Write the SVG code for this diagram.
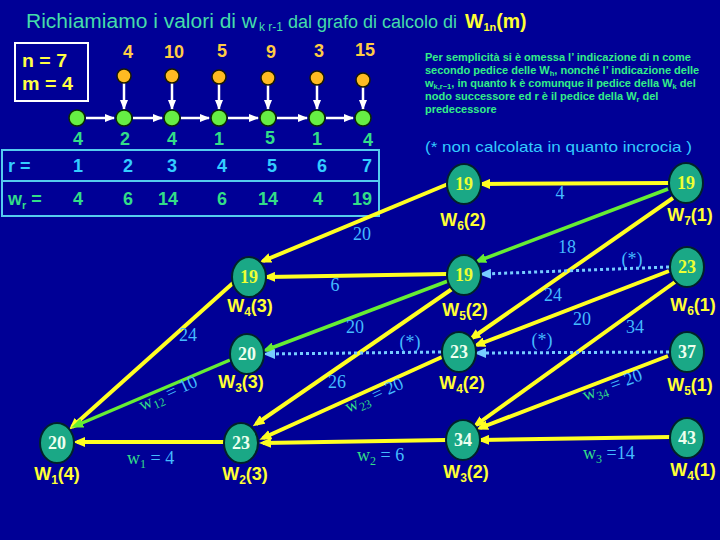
<svg xmlns="http://www.w3.org/2000/svg" width="720" height="540" viewBox="0 0 720 540">
<defs>
<marker id="ay" viewBox="0 0 12 10" refX="8" refY="5" markerWidth="12" markerHeight="10" orient="auto" markerUnits="userSpaceOnUse"><path d="M0,0 L12,5 L0,10 z" fill="#ffff22"/></marker>
<marker id="ag" viewBox="0 0 12 10" refX="8" refY="5" markerWidth="12" markerHeight="10" orient="auto" markerUnits="userSpaceOnUse"><path d="M0,0 L12,5 L0,10 z" fill="#66ee33"/></marker>
<marker id="ac" viewBox="0 0 12 10" refX="8" refY="5" markerWidth="12" markerHeight="10" orient="auto" markerUnits="userSpaceOnUse"><path d="M0,0 L12,5 L0,10 z" fill="#77ccff"/></marker>
<marker id="aw" viewBox="0 0 10 8" refX="9" refY="4" markerWidth="10" markerHeight="8" orient="auto" markerUnits="userSpaceOnUse"><path d="M0,0 L10,4 L0,8 z" fill="#ffffff"/></marker>
<style>
.node ellipse{fill:#1aa886;stroke:#00222a;stroke-width:2}
.val{font-family:"Liberation Serif","Times New Roman",serif;font-weight:bold;font-size:18px;text-anchor:middle}
.vy{fill:#eeff33}
.vw{fill:#eeffee}
.lab{font-family:"Liberation Sans",Arial,sans-serif;font-weight:bold;font-size:18px;fill:#ffff33;text-anchor:middle}
.sub{font-size:12px}
.el{font-family:"Liberation Serif","Times New Roman",serif;font-size:18px;fill:#44bbff;text-anchor:middle}
.wl{font-family:"Liberation Serif","Times New Roman",serif;font-size:18px;fill:#44bbff}
.wg{fill:#33dd88}
.ely{stroke:#ffff22;stroke-width:4;fill:none;marker-end:url(#ay)}
.elg{stroke:#66ee33;stroke-width:3.5;fill:none;marker-end:url(#ag)}
.eld{stroke:#77ccff;stroke-width:3;stroke-dasharray:3 3;fill:none;marker-end:url(#ac)}
.wa{stroke:#ffffff;stroke-width:2.5;fill:none;marker-end:url(#aw)}
.oc{fill:#ffbb22;stroke:#1a1a00;stroke-width:1.5}
.gc{fill:#66ee44;stroke:#0a2a00;stroke-width:1.5}
.top{font-family:"Liberation Sans",Arial,sans-serif;font-weight:bold;font-size:18px;fill:#ffcc44;text-anchor:middle}
.gn{font-family:"Liberation Sans",Arial,sans-serif;font-weight:bold;font-size:18px;fill:#33dd88;text-anchor:middle}
.cn{font-family:"Liberation Sans",Arial,sans-serif;font-weight:bold;font-size:18px;fill:#33ccff;text-anchor:middle}
.note{font-family:"Liberation Sans",Arial,sans-serif;font-weight:bold;font-size:11px;fill:#33ee88}
.nsub{font-size:7.5px}
</style>
</defs>
<rect x="0" y="0" width="720" height="540" fill="#000096"/>

<!-- title -->
<g id="title" font-family="'Liberation Sans',Arial,sans-serif" font-size="19.5">
<text x="26" y="27.5" fill="#44ddaa" textLength="231" lengthAdjust="spacingAndGlyphs">Richiamiamo i valori di w</text>
<text x="259" y="31" fill="#44ddaa" font-size="12" textLength="24" lengthAdjust="spacingAndGlyphs">k r-1</text>
<text x="288" y="27.5" fill="#44ddaa" font-size="18">dal grafo di calcolo di</text>
<text x="465" y="27.5" fill="#ffff33" font-weight="bold">W<tspan font-size="11" dy="3.5">1n</tspan><tspan dy="-3.5">(m)</tspan></text>
</g>

<!-- n m box -->
<g id="params">
<rect x="15" y="43" width="73" height="58" fill="none" stroke="#ffffff" stroke-width="2"/>
<text x="22" y="67" font-family="'Liberation Sans',Arial,sans-serif" font-weight="bold" font-size="19" fill="#ffff44" textLength="45" lengthAdjust="spacingAndGlyphs">n = 7</text>
<text x="22" y="90" font-family="'Liberation Sans',Arial,sans-serif" font-weight="bold" font-size="19" fill="#ffff44" textLength="51" lengthAdjust="spacingAndGlyphs">m = 4</text>
</g>

<!-- top chain -->
<g id="chain">
<text class="top" x="128" y="58">4</text>
<text class="top" x="174" y="58">10</text>
<text class="top" x="222" y="57">5</text>
<text class="top" x="271" y="58">9</text>
<text class="top" x="319" y="57">3</text>
<text class="top" x="365" y="56">15</text>
<line class="wa" x1="124" y1="83" x2="124" y2="109"/>
<line class="wa" x1="172" y1="83" x2="172" y2="109"/>
<line class="wa" x1="219" y1="84" x2="219" y2="109"/>
<line class="wa" x1="268" y1="85" x2="268" y2="109"/>
<line class="wa" x1="317" y1="85" x2="317" y2="109"/>
<line class="wa" x1="363" y1="87" x2="363" y2="109"/>
<line class="wa" x1="86" y1="118" x2="114" y2="118"/>
<line class="wa" x1="133" y1="118" x2="162" y2="118"/>
<line class="wa" x1="181" y1="118" x2="209" y2="118"/>
<line class="wa" x1="228" y1="118" x2="258" y2="118"/>
<line class="wa" x1="277" y1="118" x2="307" y2="118"/>
<line class="wa" x1="326" y1="118" x2="353" y2="118"/>
<circle class="oc" cx="124" cy="76" r="7"/>
<circle class="oc" cx="172" cy="76" r="7"/>
<circle class="oc" cx="219" cy="77" r="7"/>
<circle class="oc" cx="268" cy="78" r="7"/>
<circle class="oc" cx="317" cy="78" r="7"/>
<circle class="oc" cx="363" cy="80" r="7"/>
<circle class="gc" cx="77" cy="118" r="8"/>
<circle class="gc" cx="124" cy="118" r="8"/>
<circle class="gc" cx="172" cy="118" r="8"/>
<circle class="gc" cx="219" cy="118" r="8"/>
<circle class="gc" cx="268" cy="118" r="8"/>
<circle class="gc" cx="317" cy="118" r="8"/>
<circle class="gc" cx="363" cy="118" r="8"/>
<text class="gn" x="78" y="145">4</text>
<text class="gn" x="125" y="145">2</text>
<text class="gn" x="172" y="145">4</text>
<text class="gn" x="219" y="145">1</text>
<text class="gn" x="270" y="144">5</text>
<text class="gn" x="317" y="145">1</text>
<text class="gn" x="368" y="146">4</text>
</g>

<!-- table -->
<g id="table">
<rect x="2" y="150" width="377" height="31" fill="none" stroke="#55ccee" stroke-width="2"/>
<rect x="2" y="181" width="377" height="35" fill="none" stroke="#55ccee" stroke-width="2"/>
<text x="8" y="172" font-family="'Liberation Sans',Arial,sans-serif" font-weight="bold" font-size="18" fill="#33ccff">r =</text>
<text class="cn" x="78" y="172">1</text>
<text class="cn" x="128" y="172">2</text>
<text class="cn" x="172" y="172">3</text>
<text class="cn" x="222" y="172">4</text>
<text class="cn" x="272" y="172">5</text>
<text class="cn" x="322" y="172">6</text>
<text class="cn" x="367" y="172">7</text>
<text x="8" y="205" font-family="'Liberation Sans',Arial,sans-serif" font-weight="bold" font-size="18" fill="#33dd88">w<tspan font-size="11" dy="4">r</tspan><tspan dy="-4"> =</tspan></text>
<text class="gn" x="78" y="205">4</text>
<text class="gn" x="128" y="205">6</text>
<text class="gn" x="168" y="205">14</text>
<text class="gn" x="222" y="205">6</text>
<text class="gn" x="268" y="205">14</text>
<text class="gn" x="318" y="205">4</text>
<text class="gn" x="362" y="205">19</text>
</g>

<!-- notes -->
<g id="notes">
<text class="note" x="425" y="61">Per semplicità si è omessa l’ indicazione di n come</text>
<text class="note" x="425" y="74">secondo pedice delle W<tspan class="nsub" dy="2">h</tspan><tspan dy="-2">, nonché l’ indicazione delle</tspan></text>
<text class="note" x="425" y="87">w<tspan class="nsub" dy="2">k,r−1</tspan><tspan dy="-2">, in quanto k è comunque il pedice della W</tspan><tspan class="nsub" dy="2">k</tspan><tspan dy="-2"> del</tspan></text>
<text class="note" x="425" y="100">nodo successore ed r è il pedice della W<tspan class="nsub" dy="2">r</tspan><tspan dy="-2"> del</tspan></text>
<text class="note" x="425" y="113">predecessore</text>
<text x="425" y="152" font-family="'Liberation Sans',Arial,sans-serif" font-size="15" fill="#33ccff" textLength="267" lengthAdjust="spacingAndGlyphs">(* non calcolata in quanto incrocia )</text>
</g>

<!-- connectors -->
<g id="connectors">
<line class="ely" x1="448" y1="184" x2="263" y2="261"/>
<line class="ely" x1="669" y1="183" x2="482" y2="184"/>
<line class="elg" x1="668" y1="189" x2="478" y2="261"/>
<line class="ely" x1="673" y1="198" x2="472" y2="338"/>
<line class="eld" x1="669" y1="267" x2="483" y2="274"/>
<line class="ely" x1="669" y1="271" x2="477" y2="345"/>
<line class="ely" x1="675" y1="282" x2="476" y2="425"/>
<line class="eld" x1="669" y1="352" x2="478" y2="353"/>
<line class="ely" x1="668" y1="356" x2="480" y2="428"/>
<line class="ely" x1="670" y1="437" x2="481" y2="440"/>
<line class="ely" x1="447" y1="274" x2="267" y2="277"/>
<line class="elg" x1="448" y1="281" x2="266" y2="350"/>
<line class="ely" x1="452" y1="289" x2="256" y2="424"/>
<line class="eld" x1="441" y1="352" x2="267" y2="354"/>
<line class="ely" x1="442" y1="357" x2="263" y2="438"/>
<line class="ely" x1="446" y1="440" x2="263" y2="443"/>
<line class="ely" x1="233" y1="283" x2="72" y2="427"/>
<line class="elg" x1="230" y1="360" x2="75" y2="426"/>
<line class="ely" x1="225" y1="442" x2="77" y2="442"/>
</g>

<!-- edge labels -->
<g id="edge-labels">
<text class="el" x="362" y="240">20</text>
<text class="el" x="560" y="199">4</text>
<text class="el" x="567" y="253">18</text>
<text class="el" x="632" y="265">(*)</text>
<text class="el" x="553" y="301">24</text>
<text class="el" x="582" y="325">20</text>
<text class="el" x="635" y="333">34</text>
<text class="el" x="335" y="291">6</text>
<text class="el" x="355" y="333">20</text>
<text class="el" x="410" y="348">(*)</text>
<text class="el" x="542" y="346">(*)</text>
<text class="el" x="337" y="388">26</text>
<text class="el" x="188" y="341">24</text>
<text class="wl" transform="rotate(-24 142 411)" x="142" y="411"><tspan class="wg">w</tspan><tspan class="wg" font-size="12" dy="4">12</tspan><tspan dy="-4"> = 10</tspan></text>
<text class="wl" transform="rotate(-24 348 413)" x="348" y="413"><tspan class="wg">w</tspan><tspan class="wg" font-size="12" dy="4">23</tspan><tspan dy="-4"> = 20</tspan></text>
<text class="wl" transform="rotate(-20 585 401)" x="585" y="401"><tspan class="wg">w</tspan><tspan class="wg" font-size="12" dy="4">34</tspan><tspan dy="-4"> = 20</tspan></text>
<text class="wl" x="127" y="464"><tspan class="wg">w</tspan><tspan class="wg" font-size="12" dy="4">1</tspan><tspan dy="-4"> = 4</tspan></text>
<text class="wl" x="357" y="461"><tspan class="wg">w</tspan><tspan class="wg" font-size="12" dy="4">2</tspan><tspan dy="-4"> = 6</tspan></text>
<text class="wl" x="583" y="459"><tspan class="wg">w</tspan><tspan class="wg" font-size="12" dy="4">3</tspan><tspan dy="-4"> =14</tspan></text>
</g>

<!-- nodes -->
<g id="W7_1" class="node"><ellipse cx="686" cy="183" rx="17" ry="20"/><text class="val vy" x="686" y="189">19</text><text class="lab" x="690" y="221">W<tspan class="sub" dy="4">7</tspan><tspan dy="-4">(1)</tspan></text></g>
<g id="W6_2" class="node"><ellipse cx="464" cy="184" rx="17" ry="20"/><text class="val vy" x="464" y="190">19</text><text class="lab" x="463" y="226">W<tspan class="sub" dy="4">6</tspan><tspan dy="-4">(2)</tspan></text></g>
<g id="W6_1" class="node"><ellipse cx="687" cy="267" rx="17" ry="20"/><text class="val vy" x="687" y="273">23</text><text class="lab" x="693" y="311">W<tspan class="sub" dy="4">6</tspan><tspan dy="-4">(1)</tspan></text></g>
<g id="W5_2" class="node"><ellipse cx="464" cy="275" rx="17" ry="20"/><text class="val vy" x="464" y="281">19</text><text class="lab" x="465" y="316">W<tspan class="sub" dy="4">5</tspan><tspan dy="-4">(2)</tspan></text></g>
<g id="W4_3" class="node"><ellipse cx="249" cy="277" rx="17" ry="20"/><text class="val vy" x="249" y="283">19</text><text class="lab" x="250" y="312">W<tspan class="sub" dy="4">4</tspan><tspan dy="-4">(3)</tspan></text></g>
<g id="W3_3" class="node"><ellipse cx="247" cy="354" rx="17" ry="20"/><text class="val vw" x="247" y="360">20</text><text class="lab" x="241" y="388">W<tspan class="sub" dy="4">3</tspan><tspan dy="-4">(3)</tspan></text></g>
<g id="W4_2" class="node"><ellipse cx="459" cy="352" rx="17" ry="20"/><text class="val vw" x="459" y="358">23</text><text class="lab" x="462" y="389">W<tspan class="sub" dy="4">4</tspan><tspan dy="-4">(2)</tspan></text></g>
<g id="W5_1" class="node"><ellipse cx="687" cy="352" rx="17" ry="20"/><text class="val vw" x="687" y="358">37</text><text class="lab" x="690" y="391">W<tspan class="sub" dy="4">5</tspan><tspan dy="-4">(1)</tspan></text></g>
<g id="W1_4" class="node"><ellipse cx="57" cy="443" rx="17" ry="20"/><text class="val vw" x="57" y="449">20</text><text class="lab" x="57" y="480">W<tspan class="sub" dy="4">1</tspan><tspan dy="-4">(4)</tspan></text></g>
<g id="W2_3" class="node"><ellipse cx="241" cy="443" rx="17" ry="20"/><text class="val vw" x="241" y="449">23</text><text class="lab" x="245" y="480">W<tspan class="sub" dy="4">2</tspan><tspan dy="-4">(3)</tspan></text></g>
<g id="W3_2" class="node"><ellipse cx="463" cy="440" rx="17" ry="20"/><text class="val vw" x="463" y="446">34</text><text class="lab" x="466" y="478">W<tspan class="sub" dy="4">3</tspan><tspan dy="-4">(2)</tspan></text></g>
<g id="W4_1" class="node"><ellipse cx="687" cy="438" rx="17" ry="20"/><text class="val vw" x="687" y="444">43</text><text class="lab" x="693" y="476">W<tspan class="sub" dy="4">4</tspan><tspan dy="-4">(1)</tspan></text></g>
</svg>
